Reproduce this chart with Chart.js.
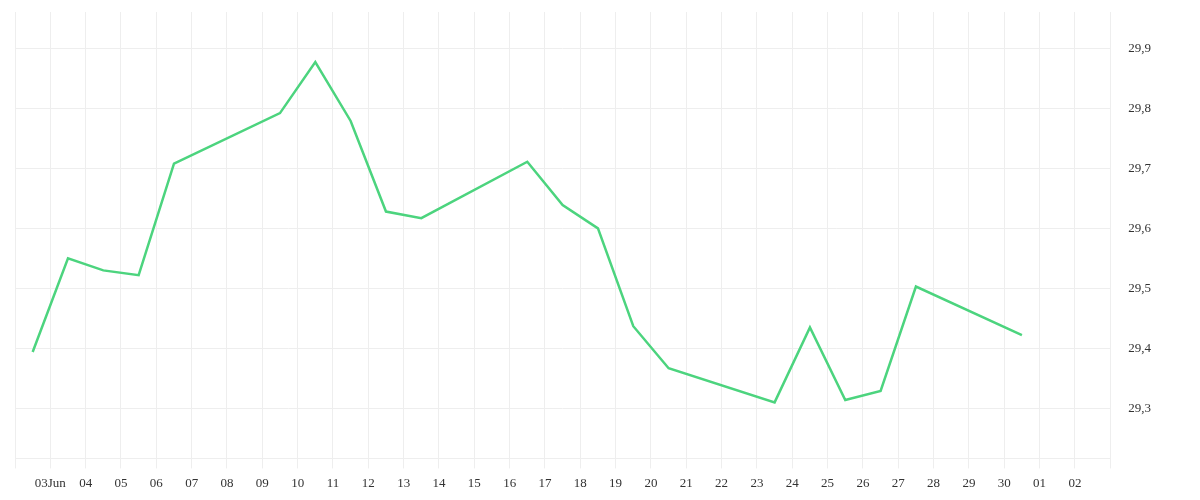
<!DOCTYPE html>
<html>
<head>
<meta charset="utf-8">
<script src="https://cdn.jsdelivr.net/npm/chart.js@4.4.1/dist/chart.umd.min.js"></script>
<style>
  html, body { margin: 0; padding: 0; background: #fff; }
  #wrap { width: 1200px; height: 500px; position: relative; }
</style>
</head>
<body>
<div id="wrap"><canvas id="priceChart"></canvas></div>
<script>
// trading days (June 2025 + start of July on the axis)
const startDate = "2025-06-02";
const dates = [
  "2025-06-02", "2025-06-03", "2025-06-04", "2025-06-05", "2025-06-06",
  "2025-06-09", "2025-06-10", "2025-06-11", "2025-06-12", "2025-06-13",
  "2025-06-16", "2025-06-17", "2025-06-18", "2025-06-19", "2025-06-20",
  "2025-06-23", "2025-06-24", "2025-06-25", "2025-06-26", "2025-06-27",
  "2025-06-30"
];
const prices = [
  29.394, 29.55, 29.53, 29.522, 29.708,
  29.792, 29.877, 29.779, 29.628, 29.617,
  29.711, 29.639, 29.600, 29.437, 29.367,
  29.310, 29.435, 29.314, 29.329, 29.503,
  29.422
];
// one label per day gridline, from 02 Jun to 03 Jul (edges left blank)
const xTickLabels = [
  "", "03Jun", "04", "05", "06", "07", "08", "09", "10", "11", "12",
  "13", "14", "15", "16", "17", "18", "19", "20", "21", "22",
  "23", "24", "25", "26", "27", "28", "29", "30", "01", "02", ""
];
const yTicks = [29.3, 29.4, 29.5, 29.6, 29.7, 29.8, 29.9];
const yMin = 29.2167;
const yMax = 29.9605;

const DAY = 86400000;
const t0 = Date.parse(startDate + "T00:00:00Z");
// each session point sits in the middle of its day
const points = dates.map((d, i) => ({
  x: (Date.parse(d + "T00:00:00Z") - t0) / DAY + 0.5,
  y: prices[i]
}));

const gridColor = "#eeeeee";
const font = { family: "'Liberation Serif', serif", size: 13 };

new Chart(document.getElementById("priceChart"), {
  type: "line",
  data: {
    datasets: [{
      data: points,
      borderColor: "#4cd47e",
      borderWidth: 2.5,
      pointRadius: 0,
      tension: 0,
      fill: false
    }]
  },
  options: {
    responsive: true,
    maintainAspectRatio: false,
    animation: false,
    layout: { padding: { left: 15, top: 12, right: 49, bottom: 2 } },
    plugins: { legend: { display: false }, tooltip: { enabled: false } },
    scales: {
      x: {
        type: "linear",
        min: 0,
        max: xTickLabels.length - 1,
        afterBuildTicks: axis => {
          axis.ticks = xTickLabels.map((_, i) => ({ value: i }));
        },
        grid: { color: gridColor, tickLength: 10, tickColor: gridColor },
        border: { color: gridColor },
        ticks: {
          autoSkip: false,
          maxRotation: 0,
          padding: 7,
          color: "#333",
          font,
          callback: v => xTickLabels[v] ?? ""
        }
      },
      y: {
        position: "right",
        min: yMin,
        max: yMax,
        afterBuildTicks: axis => {
          axis.ticks = yTicks.map(v => ({ value: v }));
        },
        // invisible tick marks make the gap between the border and labels
        grid: { color: gridColor, tickLength: 18, tickColor: "rgba(0,0,0,0)" },
        border: { color: gridColor },
        ticks: {
          padding: 0,
          color: "#333",
          font,
          callback: v => v.toFixed(1).replace(".", ",")
        }
      }
    }
  }
});
</script>
</body>
</html>
